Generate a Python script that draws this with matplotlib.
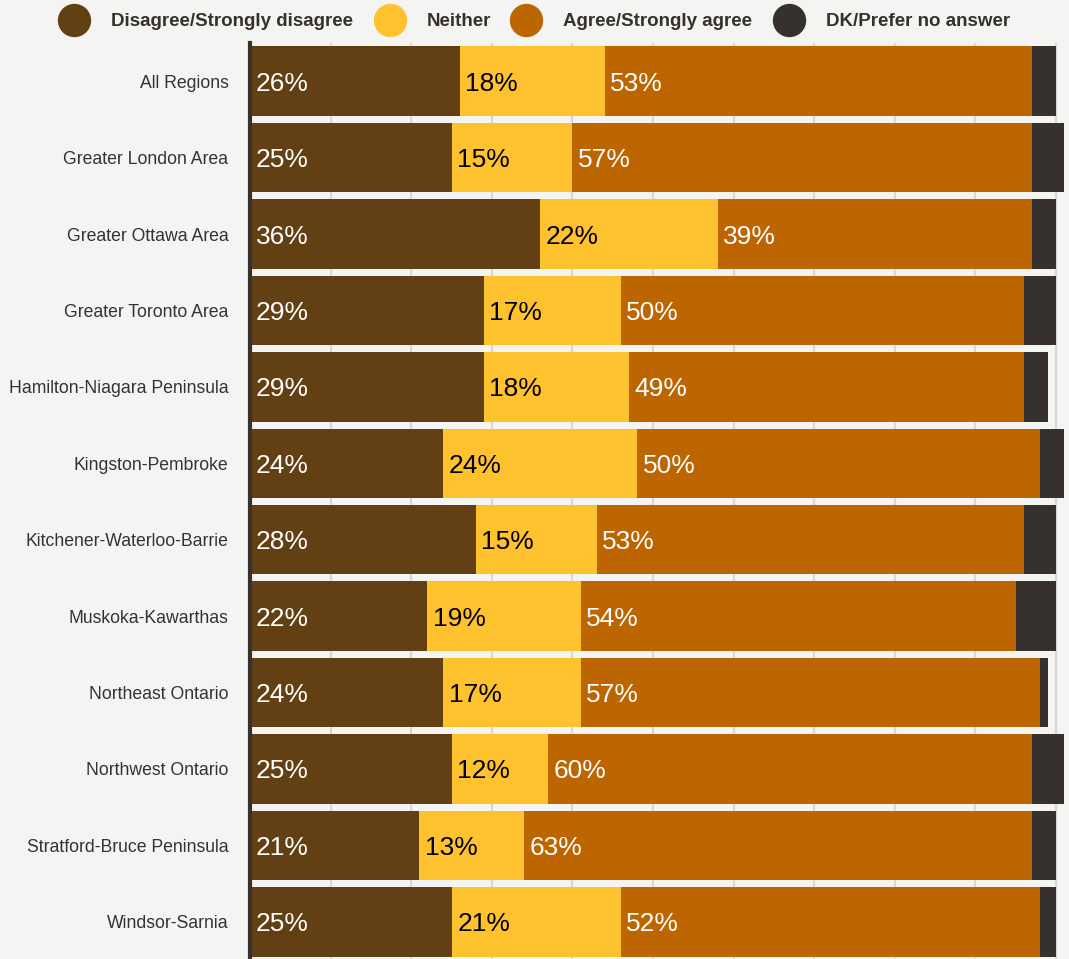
import matplotlib
matplotlib.use("Agg")
import matplotlib.pyplot as plt
from matplotlib.lines import Line2D
import numpy as np

plt.rcParams['font.family'] = ['Liberation Sans', 'DejaVu Sans']

regions = ["All Regions", "Greater London Area", "Greater Ottawa Area", "Greater Toronto Area",
           "Hamilton-Niagara Peninsula", "Kingston-Pembroke", "Kitchener-Waterloo-Barrie",
           "Muskoka-Kawarthas", "Northeast Ontario", "Northwest Ontario",
           "Stratford-Bruce Peninsula", "Windsor-Sarnia"]
disagree = [26, 25, 36, 29, 29, 24, 28, 22, 24, 25, 21, 25]
neither = [18, 15, 22, 17, 18, 24, 15, 19, 17, 12, 13, 21]
agree = [53, 57, 39, 50, 49, 50, 53, 54, 57, 60, 63, 52]
dk = [3, 4, 3, 4, 3, 3, 4, 5, 1, 4, 3, 2]

series_names = ["Disagree/Strongly disagree", "Neither", "Agree/Strongly agree", "DK/Prefer no answer"]
colors = ["#633f14", "#fec22e", "#bd6500", "#36312c"]
label_colors = ["white", "black", "white", None]

W, H = 1069, 959
fig = plt.figure(figsize=(W / 100, H / 100), dpi=100)
bg = "#f4f4f2"
fig.patch.set_facecolor(bg)
ax = fig.add_axes([250 / W, -1 / H, (W - 250) / W, (959 - 43 + 1) / H])
ax.set_facecolor(bg)

y = np.arange(len(regions))
left = np.zeros(len(regions))
for vals, c, lc in zip([disagree, neither, agree, dk], colors, label_colors):
    vals = np.array(vals, dtype=float)
    ax.barh(y, vals, left=left, height=0.91, color=c, zorder=2)
    if lc is not None:
        for yi, (l, v) in enumerate(zip(left, vals)):
            ax.text(l + 0.7, yi, f"{int(v)}%", color=lc, fontsize=19,
                    va="center_baseline", ha="left", zorder=3)
    left = left + vals

ax.set_xlim(0, 101.6)
ax.set_ylim(len(regions) - 0.5, -0.5)
ax.set_xticks(np.arange(10, 101, 10))
ax.xaxis.grid(True, color="#d8d8d8", linewidth=1.6, zorder=0)
ax.set_axisbelow(True)
ax.tick_params(axis="x", length=0, labelbottom=False)
ax.tick_params(axis="y", length=0, pad=15.5, labelsize=12.7, labelcolor="#333333")
ax.set_yticks(y)
ax.set_yticklabels(regions)
for s in ["top", "right", "bottom"]:
    ax.spines[s].set_visible(False)
ax.spines["left"].set_color("#36312c")
ax.spines["left"].set_linewidth(3)
ax.spines["left"].set_zorder(4)

# legend
circ_x = [74, 390, 526, 789]
ly = 1 - 20 / H
for cx, c, name in zip(circ_x, colors, series_names):
    fig.add_artist(Line2D([cx / W], [ly], marker="o", markersize=23, color=c,
                          linestyle="none", transform=fig.transFigure))
    fig.text((cx + 37) / W, ly, name, fontsize=13.5, fontweight="bold",
             color="#36312c", va="center_baseline", ha="left")

fig.savefig("out.png", dpi=100, facecolor=bg)
